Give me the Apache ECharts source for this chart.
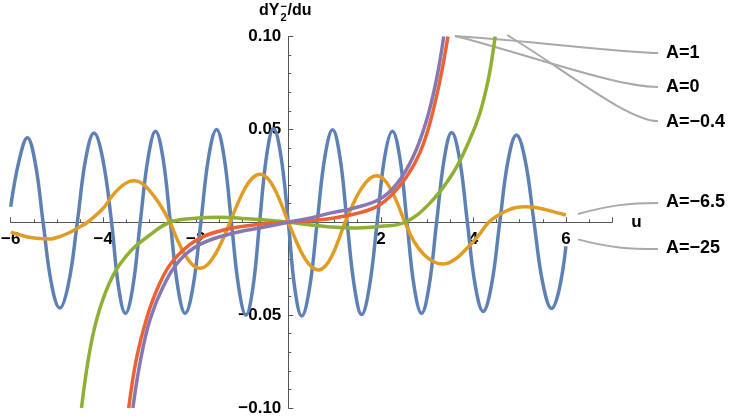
<!DOCTYPE html>
<html>
<head>
<meta charset="utf-8">
<style>
    html, body { margin: 0; padding: 0; background: #fff; }
    #chart { width: 747px; height: 420px; }
</style>
<script src="https://cdn.jsdelivr.net/npm/echarts@6/dist/echarts.min.js"></script>
</head>
<body>
<div id="chart"></div>
<script>
    // tick labels shown on the axes (0 is left out, like the original)
    const xTickLabels = [-6, -4, -2, 2, 4, 6];
    const yTickLabels = [-0.1, -0.05, 0.05, 0.1];

    const seriesNames = ['A=\u221225', 'A=\u22126.5', 'A=\u22120.4', 'A=0', 'A=1'];
    const colors = ['#5e81b5', '#e19c24', '#8fb032', '#eb6235', '#8778b3'];

    // [u, dY/du]
    const curveAm25 = [
        [-6, 0.0084], [-5.82, 0.033], [-5.64, 0.0455],
        [-5.47, 0.032], [-5.30, 0], [-5.12, -0.033], [-4.94, -0.0462],
        [-4.75, -0.033], [-4.56, 0], [-4.38, 0.034], [-4.20, 0.048],
        [-4.01, 0.034], [-3.82, 0], [-3.67, -0.0347], [-3.52, -0.049],
        [-3.36, -0.0347], [-3.20, 0], [-3.03, 0.0347], [-2.87, 0.049],
        [-2.71, 0.0347], [-2.55, 0], [-2.39, -0.0347], [-2.23, -0.049],
        [-2.06, -0.0347], [-1.89, 0], [-1.72, 0.0354], [-1.55, 0.050],
        [-1.39, 0.0354], [-1.23, 0], [-1.07, -0.0354], [-0.915, -0.050],
        [-0.766, -0.0354], [-0.62, 0], [-0.47, 0.0357], [-0.32, 0.0505],
        [-0.16, 0.0357], [0, 0], [0.14, -0.0357], [0.29, -0.0505],
        [0.457, -0.0357], [0.624, 0], [0.79, 0.0352], [0.958, 0.0498],
        [1.115, 0.0352], [1.27, 0], [1.43, -0.0351], [1.585, -0.0497],
        [1.75, -0.0351], [1.92, 0], [2.08, 0.0347], [2.25, 0.049],
        [2.41, 0.0347], [2.565, 0], [2.72, -0.0347], [2.88, -0.049],
        [3.04, -0.0347], [3.205, 0], [3.37, 0.0342], [3.53, 0.0483],
        [3.70, 0.0342], [3.87, 0], [4.04, -0.034], [4.21, -0.048],
        [4.39, -0.034], [4.57, 0], [4.75, 0.0333], [4.93, 0.047],
        [5.12, 0.0333], [5.31, 0], [5.50, -0.0328], [5.69, -0.0464],
        [5.85, -0.0366], [6, -0.013]
    ];
    const curveAm65 = [
        [-6, -0.0054], [-5.8, -0.0068], [-5.6, -0.0081], [-5.38, -0.0088],
        [-5.15, -0.009], [-4.95, -0.0078], [-4.75, -0.0058], [-4.55, -0.0031],
        [-4.34, 0], [-4.0, 0.0075], [-3.82, 0.0138], [-3.6, 0.0195],
        [-3.45, 0.0218], [-3.34, 0.0223], [-3.2, 0.0215], [-3.05, 0.0185],
        [-2.8, 0.0105], [-2.56, 0],
        [-2.3975, -0.0095], [-2.235, -0.0175], [-2.0725, -0.0229], [-1.91, -0.0248],
        [-1.7475, -0.0229], [-1.585, -0.0175], [-1.4225, -0.0095], [-1.26, 0],
        [-1.0975, 0.0099], [-0.935, 0.0183], [-0.7725, 0.0239], [-0.61, 0.0259],
        [-0.4575, 0.0239], [-0.305, 0.0183], [-0.1525, 0.0099], [0, 0],
        [0.164, -0.0098], [0.3275, -0.0182], [0.491, -0.0237], [0.655, -0.0257],
        [0.7975, -0.0237], [0.94, -0.0182], [1.0825, -0.0098], [1.225, 0],
        [1.396, 0.0096], [1.5675, 0.0177], [1.739, 0.0231], [1.91, 0.025],
        [2.0625, 0.0231], [2.215, 0.0177], [2.3675, 0.0096], [2.52, 0],
        [2.72, -0.0105], [2.935, -0.0175], [3.15, -0.0214], [3.35, -0.0225],
        [3.6, -0.02], [3.84, -0.0145], [4.1, -0.0075], [4.33, 0],
        [4.52, 0.0035], [4.72, 0.0062], [4.92, 0.0079], [5.12, 0.0084],
        [5.35, 0.0079], [5.56, 0.0068], [5.8, 0.0052], [6, 0.0039]
    ];
    const curveAm04 = [
        [-4.47, -0.1], [-4.28, -0.0677], [-4.07, -0.0462], [-3.78, -0.0283],
        [-3.42, -0.0158], [-2.99, -0.0068], [-2.56, 0], [-2.0, 0.0022],
        [-1.48, 0.0027], [-0.9, 0.0019], [-0.5, 0.0012], [0, 0],
        [0.5, -0.0015], [0.9, -0.0025], [1.48, -0.0031], [2.0, -0.0022],
        [2.52, 0], [3.06, 0.0103], [3.56, 0.0265], [3.92, 0.0444],
        [4.14, 0.0587], [4.32, 0.0766], [4.43, 0.0927], [4.47, 0.1]
    ];
    const curveA0 = [
        [-3.45, -0.1], [-3.28, -0.0731], [-3.06, -0.0515], [-2.8, -0.034],
        [-2.5, -0.021], [-2.0, -0.0098], [-1.4, -0.0042], [-0.7, -0.0014],
        [0, 0], [0.6, 0.0011], [1.26, 0.0035], [1.84, 0.0076],
        [2.2, 0.0139], [2.56, 0.0246], [2.84, 0.0372], [3.06, 0.0533],
        [3.28, 0.0766], [3.45, 0.1]
    ];
    const curveA1 = [
        [-3.36, -0.1], [-3.2, -0.075], [-2.99, -0.0525], [-2.7, -0.0345],
        [-2.34, -0.0203], [-1.9, -0.0118], [-1.26, -0.0063], [-0.54, -0.0027],
        [0, 0], [0.4, 0.0019], [0.9, 0.0049], [1.4, 0.0075],
        [1.98, 0.0125], [2.34, 0.0205], [2.7, 0.0354], [2.99, 0.0551],
        [3.2, 0.0766], [3.36, 0.1]
    ];

    const allCurves = [curveAm25, curveAm65, curveAm04, curveA0, curveA1];

    const xMin = -6, xMax = 7, yMin = -0.1, yMax = 0.1;
    const W = 747, H = 420;
    const gridBox = { left: 10.7, right: 134.8, top: 36.5, bottom: 12 };
    const gridW = W - gridBox.left - gridBox.right;
    const gridH = H - gridBox.top - gridBox.bottom;
    // shift the axes so they cross at the origin (labels move with them)
    const xAxisOffset = -gridH * (0 - yMin) / (yMax - yMin);
    const yAxisOffset = -gridW * (0 - xMin) / (xMax - xMin);

    const axisColor = '#555555';
    const labelFont = { color: '#000', fontSize: 17, fontWeight: 'bold', fontFamily: 'Liberation Sans, Arial, sans-serif' };

    function isTick(list, v) {
        return list.some(t => Math.abs(t - v) < 1e-9);
    }
    function fmt(v, digits) {
        return (v < 0 ? '\u2212' : '') + Math.abs(v).toFixed(digits);
    }

    const chart = echarts.init(document.getElementById('chart'));

    const option = {
        animation: false,
        backgroundColor: '#fff',
        grid: Object.assign({ containLabel: false, outerBoundsMode: 'none' }, gridBox),
        xAxis: {
            type: 'value',
            position: 'bottom',
            offset: xAxisOffset,
            min: xMin, max: xMax, interval: 2,
            name: 'u',
            nameLocation: 'end',
            nameGap: 19,
            nameTextStyle: Object.assign({}, labelFont, { verticalAlign: 'middle' }),
            axisLine: { onZero: false, lineStyle: { color: axisColor, width: 1 } },
            axisTick: { inside: true, length: 5, lineStyle: { color: axisColor } },
            minorTick: { show: true, splitNumber: 4, length: 3, lineStyle: { color: axisColor } },
            splitLine: { show: false },
            axisLabel: Object.assign({}, labelFont, {
                margin: 9,
                showMinLabel: true, showMaxLabel: true,
                formatter: v => isTick(xTickLabels, v) ? fmt(v, 0) : ''
            })
        },
        yAxis: {
            type: 'value',
            position: 'left',
            offset: yAxisOffset,
            min: yMin, max: yMax, interval: 0.05,
            axisLine: { onZero: false, lineStyle: { color: axisColor, width: 1 } },
            axisTick: { inside: true, length: 5, lineStyle: { color: axisColor } },
            minorTick: { show: true, splitNumber: 5, length: 3, lineStyle: { color: axisColor } },
            splitLine: { show: false },
            axisLabel: Object.assign({}, labelFont, {
                margin: 7,
                showMinLabel: true, showMaxLabel: true,
                formatter: v => isTick(yTickLabels, v) ? fmt(v, 2) : ''
            })
        },
        series: allCurves.map((d, i) => ({
            name: seriesNames[i],
            type: 'line',
            data: d,
            smooth: 0.4,
            showSymbol: false,
            clip: true,
            lineStyle: { color: colors[i], width: 3.5 },
            itemStyle: { color: colors[i] }
        }))
    };
    chart.setOption(option);

    // callout lines + labels, starting next to each curve's end
    function endPixel(d) {
        return chart.convertToPixel({ gridIndex: 0 }, d[d.length - 1]);
    }
    const grey = '#a9a9a9';
    const pA0 = endPixel(curveA0);
    const pA04 = endPixel(curveAm04);
    const pA65 = endPixel(curveAm65);
    const pA25 = endPixel(curveAm25);

    const callouts = [
        { s: [pA0[0] + 7, pA0[1] - 0.5], c1: [530, 41], c2: [628, 53], e: [658, 53], text: seriesNames[4], ty: 54 },
        { s: [pA0[0] + 7, pA0[1] - 0.5], c1: [520, 52], c2: [615, 87], e: [658, 87], text: seriesNames[3], ty: 88 },
        { s: [pA04[0] + 12, pA04[1] - 1.5], c1: [565, 70], c2: [628, 121], e: [658, 121], text: seriesNames[2], ty: 123 },
        { s: [pA65[0] + 12, pA65[1] - 1], c1: [610, 205], c2: [630, 203], e: [658, 203], text: seriesNames[1], ty: 203 },
        { s: [pA25[0] + 12, pA25[1] - 7], c1: [610, 248], c2: [630, 249], e: [658, 249], text: seriesNames[0], ty: 249 }
    ];

    const graphic = [];
    callouts.forEach(c => {
        graphic.push({
            type: 'bezierCurve',
            shape: { x1: c.s[0], y1: c.s[1], cpx1: c.c1[0], cpy1: c.c1[1], cpx2: c.c2[0], cpy2: c.c2[1], x2: c.e[0], y2: c.e[1] },
            style: { stroke: grey, lineWidth: 2, fill: null },
            silent: true
        });
        graphic.push({
            type: 'text',
            left: 666, top: c.ty - 10,
            style: { text: c.text, fill: '#000', font: 'bold 18px "Liberation Sans", Arial, sans-serif' },
            silent: true
        });
    });

    // axis title dY_2^- / du with stacked sub/superscript
    const titleFont = '"Liberation Sans", Arial, sans-serif';
    graphic.push(
        { type: 'text', x: 259, y: 3, style: { text: 'dY', fill: '#000', font: 'bold 16px ' + titleFont } },
        { type: 'text', x: 280.5, y: 1, style: { text: '\u2212', fill: '#000', font: 'bold 11px ' + titleFont } },
        { type: 'text', x: 280.5, y: 12, style: { text: '2', fill: '#000', font: 'bold 11px ' + titleFont } },
        { type: 'text', x: 287.5, y: 3, style: { text: '/du', fill: '#000', font: 'bold 16px ' + titleFont } }
    );

    chart.setOption({ graphic: graphic });
</script>
</body>
</html>
